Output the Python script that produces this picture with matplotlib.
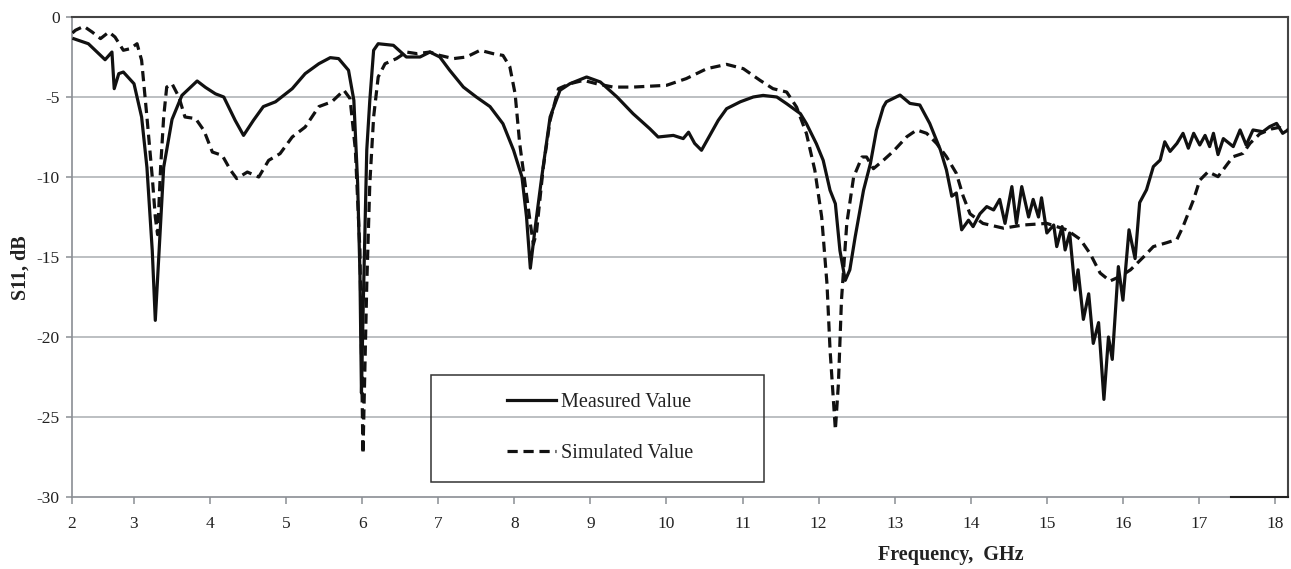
import matplotlib
matplotlib.use("Agg")
import matplotlib.pyplot as plt
from matplotlib.patches import Rectangle

# Measured reflection coefficient (GHz, dB)
freq_measured = [
    2.21, 2.40, 2.62, 2.71, 2.74, 2.80, 2.86, 3.00, 3.10, 3.17, 3.24, 3.28, 3.33, 3.39,
    3.50, 3.63, 3.83, 3.94, 4.07, 4.18, 4.33, 4.44, 4.57, 4.70, 4.86, 5.08, 5.25, 5.43,
    5.58, 5.69, 5.82, 5.89, 5.94, 5.97, 5.99, 6.01, 6.06, 6.10, 6.15, 6.21, 6.41, 6.58,
    6.76, 6.89, 7.02, 7.15, 7.33, 7.50, 7.68, 7.85, 7.99, 8.10, 8.16, 8.21, 8.27, 8.36,
    8.47, 8.60, 8.73, 8.95, 9.13, 9.35, 9.56, 9.78, 9.89, 10.09, 10.22, 10.29, 10.37,
    10.46, 10.57, 10.68, 10.79, 10.97, 11.14, 11.27, 11.45, 11.58, 11.76, 11.84, 11.97,
    12.06, 12.15, 12.22, 12.28, 12.35, 12.41, 12.48, 12.59, 12.68, 12.76, 12.85, 12.89,
    13.07, 13.20, 13.33, 13.46, 13.60, 13.68, 13.75, 13.81, 13.88, 13.97, 14.03, 14.12,
    14.21, 14.30, 14.38, 14.45, 14.54, 14.60, 14.67, 14.76, 14.82, 14.89, 14.93, 15.00,
    15.09, 15.13, 15.20, 15.24, 15.30, 15.37, 15.41, 15.48, 15.55, 15.61, 15.68, 15.75,
    15.81, 15.86, 15.94, 16.00, 16.08, 16.16, 16.22, 16.31, 16.40, 16.49, 16.55, 16.62,
    16.71, 16.79, 16.86, 16.93, 17.01, 17.08, 17.14, 17.19, 17.25, 17.32, 17.45, 17.54,
    17.62, 17.71, 17.84, 17.93, 18.02, 18.10, 18.17,
]
s11_measured = [
    -1.36, -1.67, -2.67, -2.19, -4.48, -3.54, -3.44, -4.17, -6.25, -9.4, -14.6, -18.96, -14.6, -9.4,
    -6.4, -4.9, -4.0, -4.4, -4.8, -5.0, -6.46, -7.4, -6.46, -5.6, -5.3, -4.48, -3.54, -2.92,
    -2.54, -2.6, -3.33, -5.2, -10.4, -16.0, -23.5, -18.75, -8.3, -5.2, -2.08, -1.67, -1.77, -2.5,
    -2.5, -2.19, -2.5, -3.33, -4.38, -5.0, -5.6, -6.67, -8.33, -10.0, -12.5, -15.7, -13.3, -10.0,
    -6.25, -4.58, -4.17, -3.75, -4.06, -5.0, -6.04, -6.98, -7.5, -7.4, -7.6, -7.2, -7.9,
    -8.33, -7.4, -6.46, -5.73, -5.3, -5.0, -4.9, -5.0, -5.42, -6.04, -6.67, -7.92,
    -8.96, -10.83, -11.67, -14.6, -16.46, -15.8, -13.75, -10.83, -9.17, -7.08, -5.63, -5.3,
    -4.88, -5.4, -5.5, -6.65, -8.3, -9.56, -11.2, -11.0, -13.3, -12.7, -13.1, -12.3,
    -11.85, -12.06, -11.4, -12.9, -10.6, -12.9, -10.6, -12.5, -11.4, -12.5, -11.3, -13.5,
    -13.0, -14.35, -13.1, -14.56, -13.5, -17.06, -15.8, -18.9, -17.3, -20.4, -19.1, -23.9,
    -20.0, -21.4, -15.6, -17.7, -13.3, -15.1, -11.6, -10.8, -9.35, -8.94, -7.8, -8.4,
    -7.9, -7.27, -8.2, -7.27, -8.0, -7.4, -8.1, -7.27, -8.6, -7.6, -8.1, -7.06,
    -8.0, -7.06, -7.17, -6.85, -6.65, -7.27, -7.06,
]

# Simulated reflection coefficient (GHz, dB)
freq_simulated = [
    2.19, 2.23, 2.34, 2.45, 2.56, 2.67, 2.75, 2.86, 2.95, 3.04, 3.10, 3.17, 3.24, 3.28,
    3.31, 3.35, 3.39, 3.43, 3.50, 3.59, 3.67, 3.81, 3.92, 4.03, 4.16, 4.27, 4.35, 4.49,
    4.64, 4.77, 4.92, 5.08, 5.25, 5.43, 5.60, 5.76, 5.84, 5.91, 5.97, 6.01, 6.06, 6.10,
    6.15, 6.21, 6.30, 6.45, 6.58, 6.72, 6.89, 7.02, 7.20, 7.37, 7.55, 7.72, 7.85, 7.94,
    8.01, 8.07, 8.14, 8.21, 8.25, 8.29, 8.38, 8.47, 8.58, 8.73, 8.91, 9.08, 9.30, 9.56,
    10.0, 10.26, 10.53, 10.79, 11.01, 11.23, 11.40, 11.58, 11.71, 11.84, 11.95, 12.04,
    12.11, 12.15, 12.22, 12.26, 12.30, 12.37, 12.46, 12.57, 12.63, 12.72, 12.85, 12.98,
    13.16, 13.29, 13.42, 13.55, 13.68, 13.81, 13.90, 13.99, 14.16, 14.43, 14.69, 15.00,
    15.26, 15.44, 15.57, 15.70, 15.83, 15.97, 16.10, 16.27, 16.40, 16.58, 16.71, 16.79,
    16.93, 17.01, 17.12, 17.25, 17.38, 17.45, 17.58, 17.67, 17.80, 17.95, 18.05, 18.17,
]
s11_simulated = [
    -1.0, -0.83, -0.58, -0.94, -1.35, -0.94, -1.25, -2.08, -1.98, -1.67, -2.7, -6.25, -10.0, -12.5,
    -13.6, -9.4, -6.25, -4.38, -4.17, -5.0, -6.25, -6.35, -7.1, -8.44, -8.65, -9.58, -10.1, -9.69,
    -10.0, -8.96, -8.54, -7.5, -6.88, -5.6, -5.3, -4.58, -5.1, -8.3, -14.6, -27.3, -16.7, -10.4,
    -6.25, -3.75, -2.92, -2.6, -2.19, -2.29, -2.19, -2.4, -2.6, -2.5, -2.08, -2.29, -2.4, -3.1,
    -4.8, -7.9, -10.4, -12.9, -14.2, -13.5, -9.4, -6.46, -4.48, -4.17, -3.96, -4.17, -4.38, -4.38,
    -4.27, -3.85, -3.23, -2.96, -3.23, -3.96, -4.48, -4.69, -5.63, -7.29, -9.58, -12.5,
    -16.7, -20.8, -25.8, -22.9, -17.7, -12.9, -10.0, -8.75, -8.75, -9.48, -8.96, -8.4,
    -7.48, -7.06, -7.27, -7.9, -8.73, -9.77, -11.2, -12.3, -12.9, -13.2, -13.0, -12.9,
    -13.3, -13.9, -14.8, -16.0, -16.5, -16.2, -15.8, -15.0, -14.35, -14.1, -13.9, -13.1,
    -11.4, -10.2, -9.67, -9.98, -9.15, -8.73, -8.52, -7.9, -7.3, -7.0, -6.9, -7.1,
]

# Axis ticks: the first label sits on the left edge of the frequency window
x_tick_pos = [2.185, 3, 4, 5, 6, 7, 8, 9, 10, 11, 12, 13, 14, 15, 16, 17, 18]
x_tick_labels = ["2", "3", "4", "5", "6", "7", "8", "9", "10", "11", "12", "13",
                 "14", "15", "16", "17", "18"]
y_ticks = [0, -5, -10, -15, -20, -25, -30]

serif = ["Liberation Serif", "DejaVu Serif"]
plt.rcParams["font.family"] = serif

fig = plt.figure(figsize=(12.91, 5.69), dpi=100)
ax = fig.add_axes([72 / 1291, 1 - 497 / 569, (1288 - 72) / 1291, (497 - 17) / 569])

grid_col = "#a9adb2"
for y in y_ticks[1:-1]:
    ax.axhline(y, color=grid_col, lw=1.1, zorder=1)

meas_line, = ax.plot(freq_measured, s11_measured, color="#111111", lw=2.3,
                     solid_joinstyle="round", zorder=3, label="Measured Value")
sim_line, = ax.plot(freq_simulated, s11_simulated, color="#111111", lw=2.3,
                    linestyle=(0, (3.2, 1.8)), zorder=3, label="Simulated Value")

ax.set_xlim(2.185, 18.17)
ax.set_ylim(-30, 0)

ax.set_xticks(x_tick_pos)
ax.set_xticklabels(x_tick_labels, fontsize=12.5, color="#222222")
ax.set_yticks(y_ticks)
ax.set_yticklabels([str(v) for v in y_ticks], fontsize=12.5, color="#222222")
ax.tick_params(axis="x", direction="out", length=5, width=1.1, color="#8a8e93", pad=9)
ax.tick_params(axis="y", direction="out", length=4.5, width=1.1, color="#8a8e93", pad=4.5)

for side in ("left", "bottom"):
    ax.spines[side].set_color("#8a8e93")
    ax.spines[side].set_linewidth(1.2)
for side in ("top", "right"):
    ax.spines[side].set_color("#444444")
    ax.spines[side].set_linewidth(1.5)
ax.axhline(-30, xmin=0.953, xmax=1.0, color="#222222", lw=1.5, zorder=4, clip_on=False)

ax.set_facecolor("white")

# Legend in a boxed panel
fig.patches.append(Rectangle((431 / 1291, 1 - 482 / 569), 333 / 1291, 107 / 569,
                             transform=fig.transFigure, fill=False,
                             edgecolor="#333333", lw=1.1, zorder=5))
leg = fig.legend(handles=[meas_line, sim_line], loc="center",
                 bbox_to_anchor=(600 / 1291, 1 - 428 / 569), frameon=False,
                 fontsize=14.5, handlelength=2.4, handletextpad=0.25,
                 labelspacing=1.55)
for t in leg.get_texts():
    t.set_color("#222222")

fig.text(21 / 1291, 1 - 268 / 569, "S11, dB", rotation=90, fontsize=14.5,
         fontweight="bold", ha="center", va="center", color="#222222")
fig.text(951 / 1291, 1 - 555 / 569, "Frequency,  GHz", fontsize=14.5,
         fontweight="bold", ha="center", va="center", color="#222222")

fig.savefig("out.png", dpi=100, facecolor="white")
